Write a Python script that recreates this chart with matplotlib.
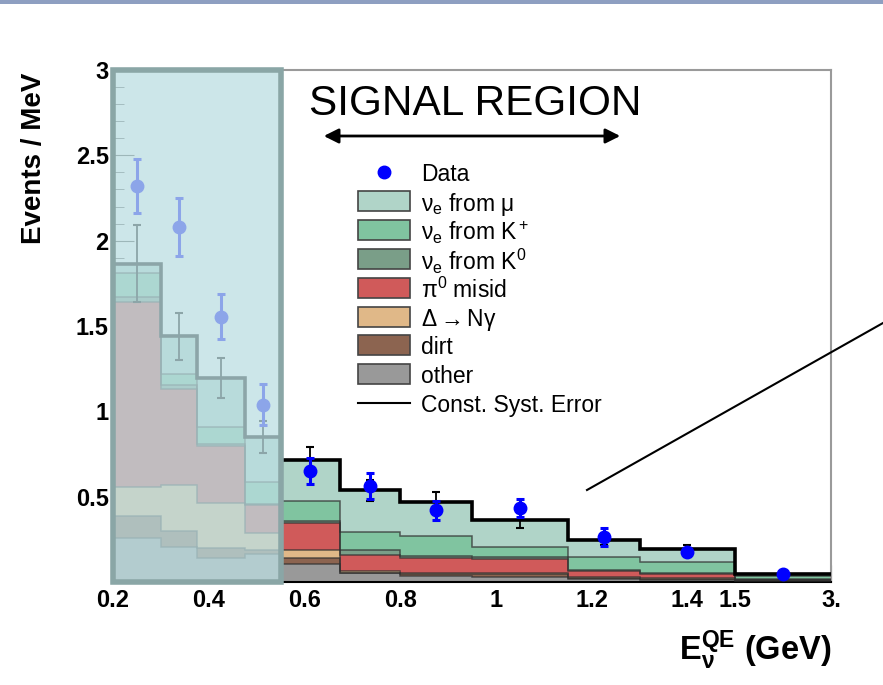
import numpy as np
import matplotlib
matplotlib.use("Agg")
import matplotlib.pyplot as plt
from matplotlib.patches import Rectangle
from matplotlib.lines import Line2D

plt.rcParams["font.family"] = ["Liberation Sans", "DejaVu Sans"]
plt.rcParams["mathtext.fontset"] = "custom"
plt.rcParams["mathtext.rm"] = "Liberation Sans"
plt.rcParams["mathtext.it"] = "Liberation Sans:italic"
plt.rcParams["mathtext.bf"] = "Liberation Sans:bold"

# ---- data (GeV bins, events / MeV) ----
edges = [0.2, 0.3, 0.375, 0.475, 0.55, 0.675, 0.8, 0.95, 1.15, 1.3, 1.5, 3.0]

# stacked components, bottom -> top
other = [0.257, 0.208, 0.139, 0.165, 0.105, 0.050, 0.035, 0.030, 0.015, 0.010, 0.005]
dirt = [0.127, 0.088, 0.059, 0.020, 0.035, 0.004, 0.012, 0.015, 0.008, 0.010, 0.004]
delta_ngamma = [0.173, 0.274, 0.265, 0.103, 0.048, 0.012, 0.003, 0.005, 0.005, 0.003, 0.001]
pi0_misid = [1.083, 0.563, 0.332, 0.165, 0.159, 0.092, 0.088, 0.084, 0.037, 0.025, 0.004]
nue_k0 = [0.030, 0.021, 0.015, 0.005, 0.008, 0.030, 0.012, 0.015, 0.006, 0.004, 0.004]
nue_kplus = [0.140, 0.063, 0.101, 0.126, 0.117, 0.104, 0.117, 0.055, 0.078, 0.068, 0.020]
nue_mu = [0.055, 0.222, 0.285, 0.264, 0.241, 0.245, 0.202, 0.157, 0.098, 0.072, 0.009]

mc_err = [0.225, 0.14, 0.117, 0.095, 0.08, 0.06, 0.056, 0.045, 0.03, 0.025, 0.012]
data = [2.32, 2.08, 1.555, 1.04, 0.649, 0.561, 0.42, 0.433, 0.263, 0.176, 0.047]
data_err = [0.16, 0.17, 0.13, 0.122, 0.075, 0.076, 0.057, 0.055, 0.053, 0.025, 0.012]

components = [
    (other, "#999999", "other"),
    (dirt, "#8c6450", "dirt"),
    (delta_ngamma, "#e0b888", r"$\mathregular{\Delta \rightarrow N\gamma}$"),
    (pi0_misid, "#d05a5a", r"$\mathregular{\pi^0}$ misid"),
    (nue_k0, "#7a9e88", r"$\mathregular{\nu_e}$ from $\mathregular{K^0}$"),
    (nue_kplus, "#80c4a0", r"$\mathregular{\nu_e}$ from $\mathregular{K^+}$"),
    (nue_mu, "#b0d4c8", r"$\mathregular{\nu_e}$ from $\mathregular{\mu}$"),
]

xticks = [0.2, 0.4, 0.6, 0.8, 1.0, 1.2, 1.4, 1.5, 3.0]
xticklabels = ["0.2", "0.4", "0.6", "0.8", "1", "1.2", "1.4", "1.5", "3."]
yticks = [0.5, 1.0, 1.5, 2.0, 2.5, 3.0]
yticklabels = ["0.5", "1", "1.5", "2", "2.5", "3"]

# last bin (1.5 - 3 GeV) is squeezed on the axis
def fwd(x):
    x = np.asarray(x, dtype=float)
    return np.where(x <= 1.5, x, 1.5 + (x - 1.5) * (0.2 / 1.5))


def inv(y):
    y = np.asarray(y, dtype=float)
    return np.where(y <= 1.5, y, 1.5 + (y - 1.5) * 7.5)


W, H = 883, 685
fig = plt.figure(figsize=(W / 100, H / 100), dpi=100)
ax = fig.add_axes([113 / W, 103 / H, 718 / W, 512 / H])
ax.set_xscale("function", functions=(fwd, inv))
ax.set_xlim(0.2, 3.0)
ax.set_ylim(0, 3.0)

edges_a = np.array(edges)
centers = 0.5 * (edges_a[:-1] + edges_a[1:])

bottom = np.zeros(len(data))
for vals, col, _ in components:
    top = bottom + np.array(vals)
    ax.stairs(top, edges_a, baseline=bottom, fill=True, color=col, zorder=2)
    ax.stairs(top, edges_a, baseline=None, color="#303030", lw=1.1, alpha=0.75, zorder=3)
    bottom = top
total = bottom
ax.stairs(total, edges_a, baseline=None, color="black", lw=2.6, zorder=4)

ax.errorbar(centers, total, yerr=mc_err, fmt="none", ecolor="black", elinewidth=1.3,
            capsize=3, capthick=1.5, zorder=5)
ax.errorbar(centers, data, yerr=data_err, fmt="o", color="#0000ff", ms=9, elinewidth=2.2,
            capsize=3, capthick=2.2, zorder=6)

# washed-out low energy box
ax.add_patch(Rectangle((0.2, 0), 0.35, 3.0, transform=ax.transData,
                       facecolor=(188 / 255, 222 / 255, 226 / 255, 0.75),
                       edgecolor="#8aa6a6", lw=4, zorder=8, clip_on=False))

ax.set_xticks(xticks)
ax.set_xticklabels(xticklabels)
ax.set_xticks(list(np.arange(0.25, 1.5, 0.05)) + [1.875, 2.25, 2.625], minor=True)
ax.set_yticks(yticks)
ax.set_yticklabels(yticklabels)
ax.set_yticks(np.arange(0.1, 3.0, 0.1), minor=True)
ax.tick_params(axis="both", which="both", direction="in", color="#444444")
ax.tick_params(axis="x", which="major", length=12, pad=5)
ax.tick_params(axis="x", which="minor", length=6)
ax.tick_params(axis="y", which="major", length=15, pad=3)
ax.tick_params(axis="y", which="minor", length=8)
for lab in ax.get_xticklabels() + ax.get_yticklabels():
    lab.set_fontweight("bold")
    lab.set_fontsize(17)

for side in ("top", "right"):
    ax.spines[side].set_color("#9a9a9a")
    ax.spines[side].set_linewidth(1.5)
ax.spines["bottom"].set_linewidth(1.5)
ax.spines["left"].set_visible(False)

ax.set_ylabel("Events / MeV", fontsize=20, fontweight="bold", loc="top")
ax.yaxis.set_label_coords(-0.092, 0.995)
ax.set_xlabel(r"$\mathbf{E_{\nu}^{QE}}$ (GeV)", fontsize=23.5, fontweight="bold", loc="right",
              labelpad=12)

# legend, laid out row by row so that the spacing stays even
rows = [("marker", "#0000ff", "Data")]
rows += [("patch", col, lab) for _, col, lab in components[::-1]]
rows += [("line", "black", "Const. Syst. Error")]
row_y0, row_dy = 172, 28.9
for i, (kind, col, lab) in enumerate(rows):
    yc = 1 - (row_y0 + i * row_dy) / H
    if kind == "marker":
        fig.add_artist(Line2D([384 / W], [yc], marker="o", color=col, ms=9, ls="none"))
    elif kind == "patch":
        fig.add_artist(Rectangle((358 / W, yc - 10 / H), 52 / W, 20 / H,
                                 transform=fig.transFigure, facecolor=col,
                                 edgecolor="#444444", lw=1.2))
    else:
        fig.add_artist(Line2D([358 / W, 410 / W], [yc, yc], color=col, lw=1.5))
    fig.text(421 / W, yc, lab, fontsize=16.5, va="center_baseline", ha="left")

# slide annotations
fig.text(309 / W, 1 - 104 / H, "SIGNAL REGION", fontsize=30.5, va="center", ha="left")
ax.annotate("", xy=(623 / W, 1 - 136 / H), xytext=(321 / W, 1 - 136 / H),
            xycoords="figure fraction", textcoords="figure fraction",
            arrowprops=dict(arrowstyle="<|-|>", color="black", lw=2, mutation_scale=22))
fig.add_artist(Line2D([587 / W, 1.0], [1 - 490 / H, 1 - 323 / H], color="black", lw=1.5))
fig.add_artist(Rectangle((0, 1 - 4 / H), 1, 4 / H, transform=fig.transFigure,
                         color="#8e9fc1", lw=0))

fig.savefig("out.png", dpi=100)
